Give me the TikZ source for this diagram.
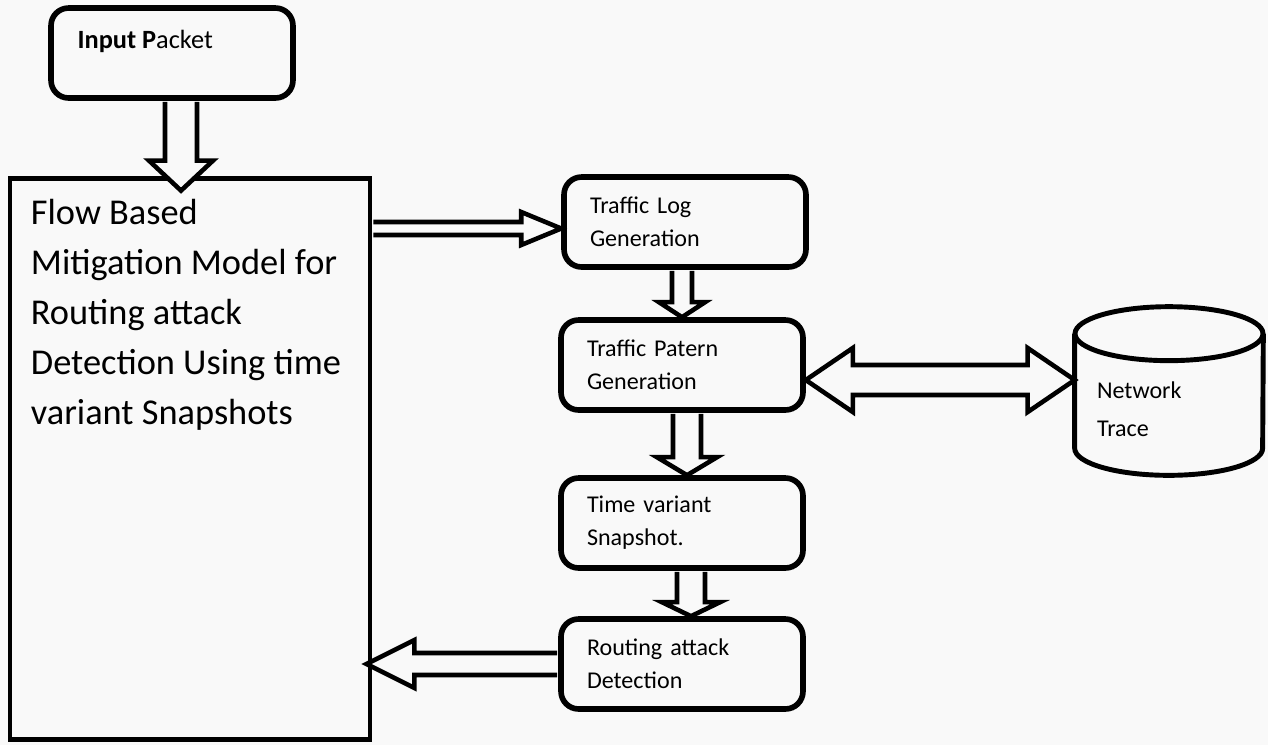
\documentclass[tikz,border=0pt]{standalone}
\usepackage{fontspec}
\setmainfont{Carlito}
\usetikzlibrary{calc}
\definecolor{paper}{gray}{0.975}

\tikzset{
  stepbox/.style={draw, line width=3.2pt, rounded corners=10pt, minimum width=4.84cm, minimum height=1.8cm,
    text width=3.8cm, inner xsep=0.52cm, inner ysep=0pt, align=left, font=\fontsize{13.7}{18.8}\selectfont},
  flowbox/.style={draw, line width=2.8pt, minimum width=7.2cm, minimum height=11.24cm, inner sep=0pt},
  plaintext/.style={inner sep=0pt, align=left},
  blockarrow/.style={draw, fill=paper, line width=2.6pt, line join=miter},
  drum/.style={line width=2.8pt}
}

% hollow arrow going down, from the bottom of #1 to the top of #2
\newcommand{\downblock}[7]{%
  \draw[blockarrow] ($(#1.south -| #2.north)+(#3-#4,1)$) -- ($(#2.north)+(#3-#4,#7-#6)$)
    -- ($(#2.north)+(#3-#5,#7-#6)$) -- ($(#2.north)+(#3,#7)$) -- ($(#2.north)+(#3+#5,#7-#6)$)
    -- ($(#2.north)+(#3+#4,#7-#6)$) -- ($(#1.south -| #2.north)+(#3+#4,1)$);}

% hollow arrow going sideways, tail #1, tip #2
\newcommand{\sideblock}[8]{%
  \draw[blockarrow] ($#1+(#3,#4-#5)$) -- ($#2+(#7,#4-#5)$) -- ($#2+(#7,#4-#6)$)
    -- ($#2+(#8,#4)$) -- ($#2+(#7,#4+#6)$) -- ($#2+(#7,#4+#5)$) -- ($#1+(#3,#4+#5)$);}

% hollow arrow with two heads
\newcommand{\bothblock}[6]{%
  \draw[blockarrow] ($#1+(0,#3)$) -- ($#1+(#6,#3-#5)$) -- ($#1+(#6,#3-#4)$) -- ($#2+(-#6,#3-#4)$)
    -- ($#2+(-#6,#3-#5)$) -- ($#2+(0,#3)$) -- ($#2+(-#6,#3+#5)$) -- ($#2+(-#6,#3+#4)$)
    -- ($#1+(#6,#3+#4)$) -- ($#1+(#6,#3+#5)$) -- cycle;}

\begin{document}
\begin{tikzpicture}[x=0.02cm, y=-0.02cm]
  \fill[paper] (0,0) rectangle (1268,745);
  \useasboundingbox (0,0) rectangle (1268,745);

  \node[stepbox] (inp) at (172,53) {};
  \node[plaintext, anchor=north west, font=\fontsize{15}{18.8}\selectfont] (inptxt) at ($(inp.north west)+(29,25)$) {\textbf{Input P}acket};

  \node[flowbox] (flow) at (190,459) {};
  \node[plaintext, anchor=north west, font=\fontsize{20.7}{28.5}\selectfont] (flowtxt) at ($(flow.north west)+(23,23)$)
    {Flow Based\\Mitigation Model for\\Routing attack\\Detection Using time\\variant Snapshots};

  \node[stepbox] (tl) at (685,222) {Traffic Log\\Generation};
  \node[stepbox] (tp) at (682,365) {Traffic Patern\\Generation};
  \node[stepbox] (tv) at (682,523) {Time variant\\Snapshot.};
  \node[stepbox] (ra) at (682,664) {Routing attack\\Detection};

  % network trace drum
  \node[minimum width=3.76cm, minimum height=3.36cm, inner sep=0pt] (nt) at (1169,391) {};
  \draw[drum] ($(nt.north west)+(0,27)$) -- ($(nt.south west)+(0,-27)$)
    arc[start angle=180, end angle=360, x radius=1.88cm, y radius=0.54cm] -- ($(nt.north east)+(0,27)$);
  \draw[drum] ($(nt.north)+(0,27)$) ellipse[x radius=1.88cm, y radius=0.54cm];
  \node[plaintext, text width=3.2cm, font=\fontsize{13.7}{21.6}\selectfont] (nttxt) at ($(nt.center)+(8,18)$) {Network\\Trace};

  \downblock{inp}{flow}{-9}{16}{32}{30}{15}
  \downblock{tl}{tp}{0}{10}{23}{15}{0}
  \downblock{tp}{tv}{5}{14}{30}{18}{0}
  \downblock{tv}{ra}{9}{14}{29}{14}{0}
  \sideblock{(flow.east |- tl.west)}{(tl.west)}{1}{6.5}{6.5}{16.5}{-40}{0}
  \sideblock{(ra.west)}{(flow.east |- ra.west)}{-1}{0}{11}{24}{42}{-6}
  \bothblock{(tp.east)}{(nt.west |- tp.east)}{15}{15}{32}{47}
\end{tikzpicture}
\end{document}
